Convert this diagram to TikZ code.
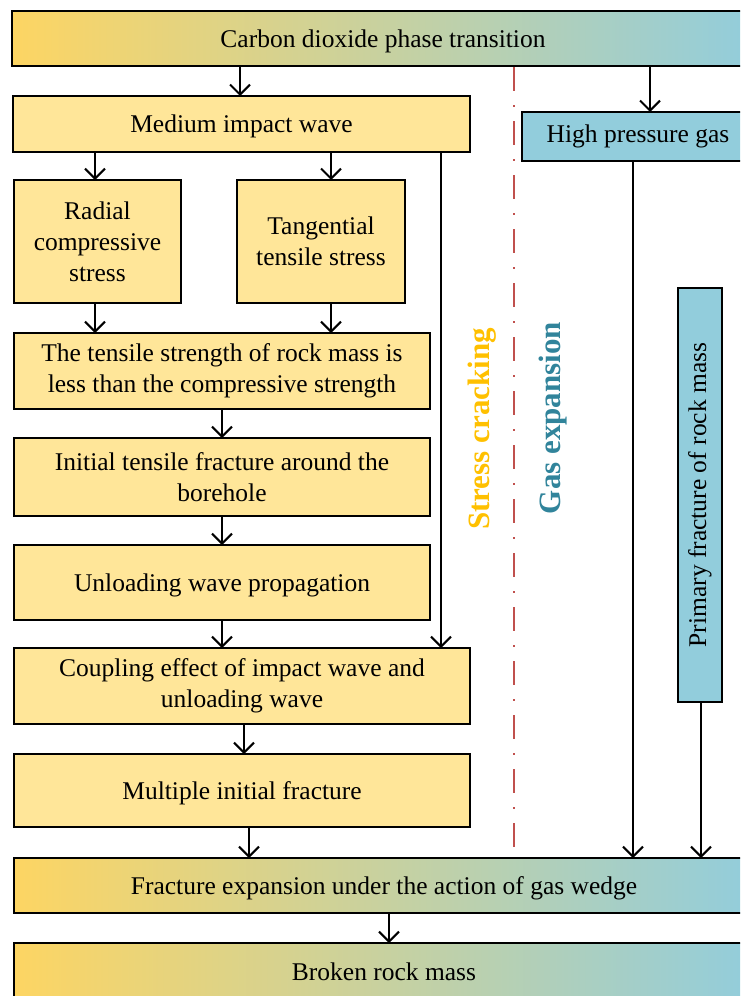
\documentclass[tikz,border=0pt]{standalone}
\usepackage{fontspec}
\setmainfont{Liberation Serif}
\usetikzlibrary{arrows.meta,calc}
\definecolor{ylw}{HTML}{FFE699}
\definecolor{blu}{HTML}{92CDDC}
\definecolor{gld}{HTML}{FDD563}
\definecolor{gldtxt}{HTML}{FFC000}
\definecolor{tealtxt}{HTML}{31849B}
\definecolor{redln}{HTML}{C0504D}
\tikzset{
  bx/.style={draw=black, line width=2.8pt, inner sep=0pt, outer sep=0pt, align=center,
    font=\fontsize{25.5}{31}\selectfont},
  ybox/.style={bx, fill=ylw},
  bbox/.style={bx, fill=blu},
  gbox/.style={bx, left color=gld, right color=blu},
  low/.style={text depth=0pt},
  arr/.style={line width=2pt, -{Straight Barb[length=10pt,width=20pt,line width=2pt]}},
  sidelbl/.style={rotate=90, font=\fontsize{31}{36}\selectfont\bfseries}
}
\begin{document}
\begin{tikzpicture}[x=1pt,y=-1pt]
\useasboundingbox (0,0) rectangle (740,996);
\clip (0,0) rectangle (740,996);
% nodes
\node[gbox, low, minimum width=742pt, minimum height=55pt] (top) at (383,38.5) {Carbon dioxide phase transition};
\node[ybox, low, minimum width=457pt, minimum height=56pt] (med) at (241.5,124) {Medium impact wave};
\node[bbox, minimum width=232pt, minimum height=49pt] (hpg) at (638,136.5) {High pressure gas};
\node[ybox, minimum width=167pt, minimum height=123pt] (rad) at (97.5,241.5) {Radial\\compressive\\stress};
\node[ybox, minimum width=168pt, minimum height=123pt] (tan) at (321,241.5) {Tangential\\tensile stress};
\node[ybox, minimum width=416pt, minimum height=76pt] (tens) at (222,371) {The tensile strength of rock mass is\\less than the compressive strength};
\node[ybox, minimum width=416pt, minimum height=78pt] (init) at (222,477) {Initial tensile fracture around the\\borehole};
\node[ybox, low, minimum width=416pt, minimum height=75pt] (unl) at (222,582.5) {Unloading wave propagation};
\node[ybox, minimum width=456pt, minimum height=76pt] (coup) at (242,686) {Coupling effect of impact wave and\\unloading wave};
\node[ybox, low, minimum width=456pt, minimum height=73pt] (mult) at (242,790.5) {Multiple initial fracture};
\node[gbox, low, minimum width=740pt, minimum height=55pt] (fexp) at (384,885.5) {Fracture expansion under the action of gas wedge};
\node[gbox, minimum width=740pt, minimum height=57pt] (brk) at (384,971.5) {Broken rock mass};
\node[bbox, minimum width=44pt, minimum height=414pt] (prim) at (700,495) {\rotatebox{90}{Primary fracture of rock mass}};
% side labels
\node[sidelbl, text=gldtxt] (stress) at (482,429) {Stress cracking};
\node[sidelbl, text=tealtxt] (gas) at (553,418) {Gas expansion};
% dash-dot divider
\coordinate (d1) at (514,67);
\coordinate (d2) at (514,850);
\draw[redln, line width=2pt, dash pattern=on 24pt off 14pt on 2pt off 14pt] (d1) -- (d2);
% connectors
\draw[arr] ([xshift=-1.5pt]med.north |- top.south) -- ([xshift=-1.5pt]med.north);
\draw[arr] ([xshift=12pt]hpg.north |- top.south) -- ([xshift=12pt]hpg.north);
\draw[arr] ([xshift=-2.5pt]rad.north |- med.south) -- ([xshift=-2.5pt]rad.north);
\draw[arr] ([xshift=10pt]tan.north |- med.south) -- ([xshift=10pt]tan.north);
\draw[arr] ([xshift=-2.5pt]rad.south) -- ([xshift=-2.5pt]rad.south |- tens.north);
\draw[arr] ([xshift=10pt]tan.south) -- ([xshift=10pt]tan.south |- tens.north);
\draw[arr] (tens.south) -- (init.north);
\draw[arr] (init.south) -- (unl.north);
\draw[arr] (unl.south) -- (unl.south |- coup.north);
\draw[arr] ([xshift=-29pt]med.south east) -- ([xshift=-29pt]coup.north east);
\draw[arr] ([xshift=2pt]coup.south) -- ([xshift=2pt]mult.north);
\draw[arr] ([xshift=7pt]mult.south) -- ([xshift=7pt]mult.south |- fexp.north);
\draw[arr] ([xshift=5pt]fexp.south) -- ([xshift=5pt]brk.north);
\draw[arr] ([xshift=-5pt]hpg.south) -- ([xshift=-5pt]hpg.south |- fexp.north);
\draw[arr] ([xshift=1pt]prim.south) -- ([xshift=1pt]prim.south |- fexp.north);
\end{tikzpicture}
\end{document}
